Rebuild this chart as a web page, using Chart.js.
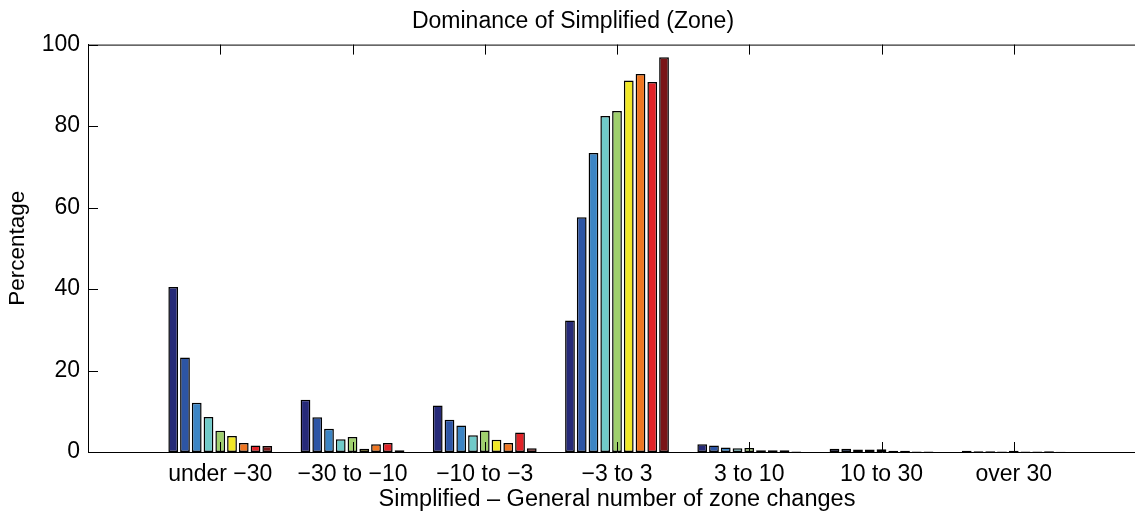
<!DOCTYPE html>
<html>
<head>
<meta charset="utf-8">
<script src="https://cdn.jsdelivr.net/npm/chart.js@4.4.1/dist/chart.umd.min.js"></script>
<style>
  html, body { margin: 0; padding: 0; background: #fff; overflow: hidden; }
  #wrap { width: 1234px; height: 515px; }
</style>
</head>
<body>
<div id="wrap"><canvas id="zoneChart" width="1234" height="515"></canvas></div>
<script>
const categories = ['under \u221230', '\u221230 to \u221210', '\u221210 to \u22123', '\u22123 to 3', '3 to 10', '10 to 30', 'over 30'];
const yTicks = [0, 20, 40, 60, 80, 100];

// one array per series, one value per category
const series1 = [40.5, 12.8, 11.4, 32.3, 1.9, 0.8, 0.3];
const series2 = [23.2, 8.5, 7.9, 57.6, 1.6, 0.8, 0.2];
const series3 = [12.1, 5.7, 6.5, 73.4, 1.1, 0.6, 0.2];
const series4 = [8.6, 3.1, 4.1, 82.5, 0.9, 0.6, 0.1];
const series5 = [5.2, 3.7, 5.3, 83.7, 1.0, 0.7, 0.3];
const series6 = [3.9, 0.8, 3.0, 91.2, 0.4, 0.3, 0.1];
const series7 = [2.2, 1.9, 2.2, 92.8, 0.4, 0.3, 0.1];
const series8 = [1.6, 2.2, 4.8, 90.8, 0.4, 0.1, 0.2];
const series9 = [1.5, 0.4, 0.9, 96.9, 0.1, 0.1, 0.05];

const allSeries = [series1, series2, series3, series4, series5, series6, series7, series8, series9];
// jet-like colour ramp
const colors = ['#262a78', '#2d55a5', '#3c85c5', '#70cac9', '#9fd06d', '#f1e828', '#ef7622', '#e12328', '#7a1517'];

const FONT = '"Liberation Sans", Arial, Helvetica, sans-serif';

// inward tick marks and top/right edges of the axes box
const boxTicks = {
  id: 'boxTicks',
  afterDatasetsDraw(chart) {
    const { ctx, chartArea: a, scales } = chart;
    const len = 10;
    ctx.save();
    ctx.strokeStyle = '#000';
    ctx.lineWidth = 1;
    ctx.beginPath();
    ctx.moveTo(a.left, a.top + 0.5);
    ctx.lineTo(a.right, a.top + 0.5);
    ctx.moveTo(a.right - 0.5, a.top);
    ctx.lineTo(a.right - 0.5, a.bottom);
    categories.forEach((c, i) => {
      const x = Math.round(scales.x.getPixelForValue(i + 1)) + 0.5;
      ctx.moveTo(x, a.bottom);
      ctx.lineTo(x, a.bottom - len);
      ctx.moveTo(x, a.top);
      ctx.lineTo(x, a.top + len);
    });
    yTicks.forEach(v => {
      const y = Math.round(scales.y.getPixelForValue(v)) + 0.5;
      ctx.moveTo(a.left, y);
      ctx.lineTo(a.left + len, y);
      ctx.moveTo(a.right, y);
      ctx.lineTo(a.right - len, y);
    });
    ctx.stroke();
    ctx.restore();
  }
};

const datasets = allSeries.map((vals, s) => ({
  label: 'Series ' + (s + 1),
  data: vals.map((v, i) => ({ x: i + 1, y: v })),
  backgroundColor: colors[s],
  borderColor: '#000',
  borderWidth: 1.5,
  borderSkipped: false,
  categoryPercentage: 0.8,
  barPercentage: 0.83
}));

new Chart(document.getElementById('zoneChart'), {
  type: 'bar',
  data: { datasets },
  options: {
    responsive: false,
    devicePixelRatio: 1,
    animation: false,
    layout: { padding: { left: 0, right: 88, top: 0, bottom: 0 } },
    plugins: {
      legend: { display: false },
      tooltip: { enabled: false },
      title: {
        display: true,
        text: 'Dominance of Simplified (Zone)',
        color: '#000',
        font: { family: FONT, size: 23, weight: 'normal' },
        padding: { top: 8, bottom: 9 }
      }
    },
    scales: {
      x: {
        type: 'linear',
        offset: false,
        min: 0,
        max: 8,
        grid: { display: false, drawTicks: false, offset: false },
        border: { display: true, color: '#000', width: 1 },
        afterBuildTicks: scale => { scale.ticks = categories.map((c, i) => ({ value: i + 1 })); },
        afterFit: scale => { scale.height = 63; },
        ticks: {
          color: '#000',
          autoSkip: false,
          maxRotation: 0,
          padding: 9,
          font: { family: FONT, size: 23 },
          callback: v => categories[v - 1] || ''
        },
        title: {
          display: true,
          text: 'Simplified \u2013 General number of zone changes',
          color: '#000',
          font: { family: FONT, size: 23.5 },
          padding: { top: 0, bottom: 1 }
        }
      },
      y: {
        min: 0,
        max: 100,
        grid: { display: false, drawTicks: false },
        border: { display: true, color: '#000', width: 1 },
        afterBuildTicks: scale => { scale.ticks = yTicks.map(v => ({ value: v })); },
        afterFit: scale => { scale.width = 88; },
        ticks: {
          color: '#000',
          padding: 8,
          font: { family: FONT, size: 23 }
        },
        title: {
          display: true,
          text: 'Percentage',
          color: '#000',
          font: { family: FONT, size: 22.5 },
          padding: { top: 4, bottom: 0 }
        }
      }
    }
  },
  plugins: [boxTicks]
});
</script>
</body>
</html>
